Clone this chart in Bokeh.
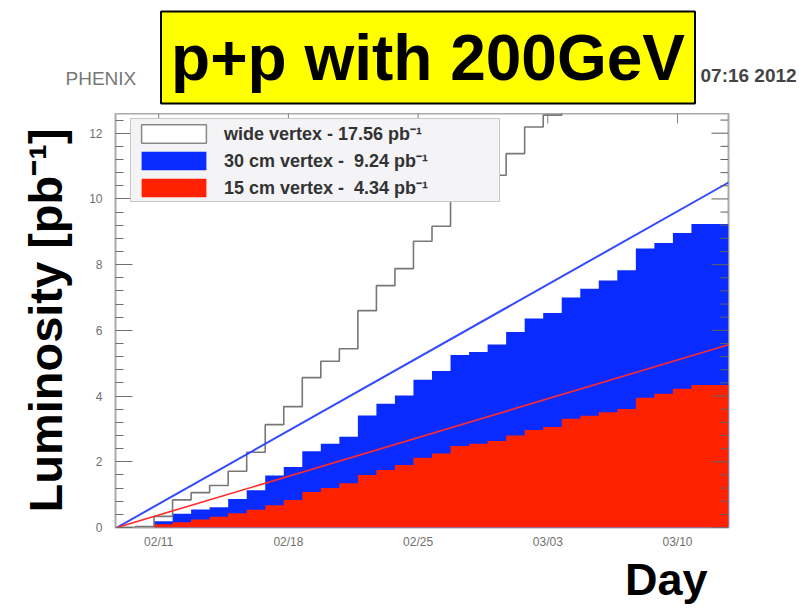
from datetime import datetime

from bokeh.plotting import figure
from bokeh.layouts import column
from bokeh.models import (Range1d, FixedTicker, Legend, LegendItem, Label, Title)
from bokeh.embed import file_html
from bokeh.resources import INLINE

# ---------------- data ----------------
bin_start = datetime(2012, 2, 8, 18)          # left edge of the first daily bin
# cumulative integrated luminosity per daily bin [pb^-1]
lumi_wide = [0.00, 0.03, 0.34, 0.84, 1.06, 1.28, 1.71, 2.29, 3.13, 3.68, 4.56,
             5.06, 5.44, 6.60, 7.36, 7.88, 8.71, 9.17, 10.10, 10.40, 10.72,
             11.38, 12.19, 12.55, 13.10, 13.60, 14.20, 14.70, 15.30, 15.90,
             16.50, 17.00, 17.56]
lumi_30cm = [0.00, 0.00, 0.19, 0.42, 0.55, 0.62, 0.87, 1.13, 1.58, 1.84, 2.32,
             2.55, 2.76, 3.41, 3.77, 4.02, 4.50, 4.76, 5.25, 5.34, 5.57,
             5.95, 6.36, 6.53, 7.00, 7.27, 7.52, 7.83, 8.49, 8.66, 8.96,
             9.24, 9.24]
lumi_15cm = [0.00, 0.00, 0.10, 0.16, 0.24, 0.33, 0.43, 0.54, 0.68, 0.84, 1.08,
             1.20, 1.35, 1.60, 1.75, 1.90, 2.12, 2.25, 2.48, 2.55, 2.63,
             2.80, 2.97, 3.06, 3.31, 3.40, 3.51, 3.61, 3.95, 4.07, 4.22,
             4.34, 4.34]
# goal (straight) lines
goal_days = [0, 33]
goal_30cm = [0.0, 10.50]
goal_15cm = [0.0, 5.56]

x_tick_labels = ["02/11", "02/18", "02/25", "03/03", "03/10"]
y_ticks = [0, 2, 4, 6, 8, 10, 12]
legend_labels = ["wide vertex - 17.56 pb\u207b\u00b9",
                 "30 cm vertex -  9.24 pb\u207b\u00b9",
                 "15 cm vertex -  4.34 pb\u207b\u00b9"]

BLUE = "#0a2bff"
RED = "#ff2200"
FONT = "Liberation Sans"

# ---------------- derived ----------------
n_bins = len(lumi_wide)
bin_left = list(range(n_bins))
bin_right = [k + 1 for k in bin_left]
edges = list(range(n_bins + 1))
x_tick_pos = [(datetime.strptime("2012/" + s, "%Y/%m/%d") - bin_start).total_seconds() / 86400
              for s in x_tick_labels]
y_minor = [round(i * 0.4, 2) for i in range(0, 33) if i % 5 != 0]

X0, X1 = -0.08, float(n_bins)
Y0, Y1 = 0.0, 12.6
BL, BR, BB = 115, 71, 82
W, H_HEAD, H_MAIN = 799, 113, 496
px_x = (W - BL - BR) / (X1 - X0)          # pixels per day
px_y = (H_MAIN - BB) / (Y1 - Y0)          # pixels per pb^-1

# ---------------- header strip (title box and stamp texts) ----------------
# its frame is aligned with the main plot frame (x 115..728), so data x == page pixel x
head = figure(width=W, height=H_HEAD, x_range=Range1d(BL, W - BR), y_range=Range1d(H_HEAD, 0),
              output_backend="svg", toolbar_location=None,
              x_axis_location=None, y_axis_location=None, min_border=0)
head.grid.visible = False
head.outline_line_color = None
head.title.visible = False
# stamp texts live in the side panels (not clipped by the frame)
head.add_layout(Label(x=681, y=38, x_units="screen", y_units="screen", text="07:16 2012",
                      text_font=FONT, text_font_size="19px", text_font_style="bold",
                      text_color="#444444", text_align="left", text_baseline="middle"), "left")
head.add_layout(Label(x=-663, y=35, x_units="screen", y_units="screen", text="PHENIX",
                      text_font=FONT, text_font_size="19px", text_color="#777777",
                      text_align="left", text_baseline="middle"), "right")
head.add_layout(Label(x=427.5, y=57, text="p+p with 200GeV", text_font=FONT,
                      text_font_size="64px", text_font_style="bold", text_color="black",
                      text_align="center", text_baseline="middle",
                      background_fill_color="#ffff00", background_fill_alpha=1.0,
                      border_line_color="black", border_line_width=2, padding=10))

# ---------------- main plot ----------------
p = figure(width=W, height=H_MAIN,
           x_range=Range1d(X0, X1), y_range=Range1d(Y0, Y1),
           output_backend="svg", toolbar_location=None,
           min_border_left=BL, min_border_right=BR,
           min_border_top=0, min_border_bottom=BB)
p.title.visible = False
p.grid.visible = False
p.background_fill_color = "white"
p.border_fill_color = "white"
p.outline_line_color = "#aaaaaa"
p.outline_line_width = 2

# histograms (filled step areas)
r30 = p.varea_step(x=edges, y1=[0] * (n_bins + 1), y2=lumi_30cm + [lumi_30cm[-1]],
                   step_mode="after", fill_color=BLUE)
r15 = p.varea_step(x=edges, y1=[0] * (n_bins + 1), y2=lumi_15cm + [lumi_15cm[-1]],
                   step_mode="after", fill_color=RED)
p.step(x=edges, y=lumi_wide + [lumi_wide[-1]], mode="after",
       line_color="#777777", line_width=1.6)
p.line(goal_days, goal_30cm, line_color="#3348ff", line_width=2)
p.line(goal_days, goal_15cm, line_color="#ff2a2a", line_width=1.6)

# hollow box used only for the legend swatch of the wide-vertex histogram
rw = p.quad(left=bin_left, right=bin_right, bottom=0, top=lumi_wide, fill_color="white",
            line_color="#888888", line_width=1.5, visible=False)

# inward ticks on the right and top frame edges (ROOT style), at the axis tick values
p.segment(x0=[X1 - 17 / px_x] * len(y_ticks), y0=y_ticks, x1=[X1] * len(y_ticks), y1=y_ticks,
          line_color="#606060", line_width=1)
p.segment(x0=[X1 - 8 / px_x] * len(y_minor), y0=y_minor, x1=[X1] * len(y_minor), y1=y_minor,
          line_color="#606060", line_width=1)
p.segment(x0=x_tick_pos, y0=[Y1] * len(x_tick_pos), x1=x_tick_pos,
          y1=[Y1 - 10 / px_y] * len(x_tick_pos), line_color="#808080", line_width=1)

# axes
xa = p.xaxis[0]
xa.ticker = FixedTicker(ticks=x_tick_pos, minor_ticks=[])
xa.major_label_overrides = {t: s for t, s in zip(x_tick_pos, x_tick_labels)}
xa.major_tick_in = 0
xa.major_tick_out = 0
xa.minor_tick_in = 0
xa.minor_tick_out = 0
xa.axis_line_color = None
xa.major_label_standoff = 7
xa.major_label_text_font = FONT
xa.major_label_text_font_size = "12px"
xa.major_label_text_color = "#707070"

ya = p.yaxis[0]
ya.ticker = FixedTicker(ticks=y_ticks, minor_ticks=y_minor)
ya.major_tick_in = 17
ya.major_tick_out = 0
ya.minor_tick_in = 8
ya.minor_tick_out = 0
ya.major_tick_line_color = "#707070"
ya.minor_tick_line_color = "#707070"
ya.axis_line_color = None
ya.major_label_standoff = 13
ya.major_label_text_font = FONT
ya.major_label_text_font_size = "12px"
ya.major_label_text_color = "#707070"
ya.axis_label = "Luminosity [pb\u207b\u00b9]"
ya.axis_label_text_font = FONT
ya.axis_label_text_font_size = "47px"
ya.axis_label_text_font_style = "bold"
ya.axis_label_text_color = "black"
ya.axis_label_standoff = 14

legend = Legend(items=[LegendItem(label=legend_labels[0], renderers=[rw]),
                       LegendItem(label=legend_labels[1], renderers=[r30]),
                       LegendItem(label=legend_labels[2], renderers=[r15])],
                location=(15, 325), margin=0, padding=2, spacing=3,
                glyph_width=81, glyph_height=23, label_height=23, label_width=273,
                label_standoff=10, label_text_font=FONT, label_text_font_size="18px",
                label_text_font_style="bold", label_text_color="#333333",
                background_fill_color="#f4f3f6", background_fill_alpha=1.0,
                border_line_color="#999999", border_line_width=1.5)
p.add_layout(legend)

# x axis title at the lower right
p.add_layout(Title(text="Day", text_font=FONT, text_font_size="45px", text_font_style="bold",
                   text_color="black", align="right", offset=21, standoff=0), "below")

open("out.html", "w").write(file_html(column(head, p), INLINE))
